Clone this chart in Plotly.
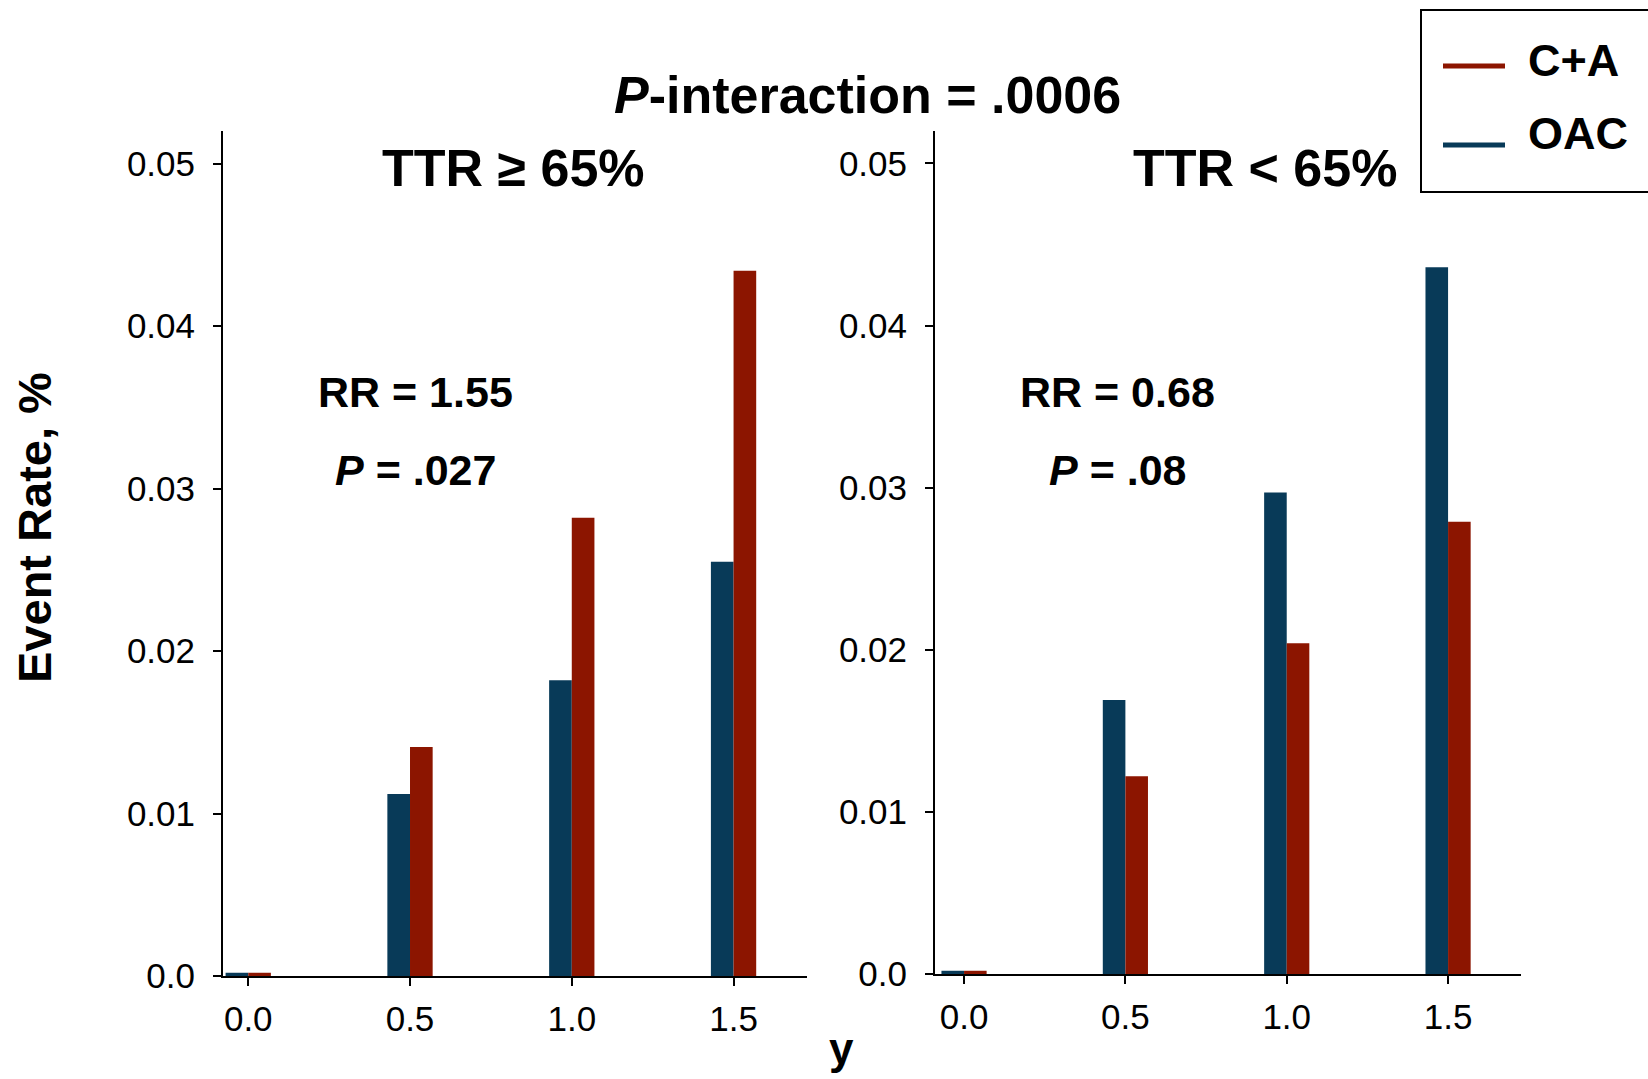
import plotly.graph_objects as go

# Event rates by follow-up time (years), split by TTR subgroup
years = [0.0, 0.5, 1.0, 1.5]
oac_ttr_high = [0.0002, 0.0112, 0.0182, 0.0255]
ca_ttr_high = [0.0002, 0.0141, 0.0282, 0.0434]
oac_ttr_low = [0.0002, 0.0169, 0.0297, 0.0436]
ca_ttr_low = [0.0002, 0.0122, 0.0204, 0.0279]

x_tick_vals = [0.0, 0.5, 1.0, 1.5]
x_tick_text = ["0.0", "0.5", "1.0", "1.5"]
y_tick_vals = [0.0, 0.01, 0.02, 0.03, 0.04, 0.05]
y_tick_text = ["0.0", "0.01", "0.02", "0.03", "0.04", "0.05"]

W, H = 1648, 1079
FONT = "Liberation Sans, Arial, sans-serif"
BLUE = "#083a58"
RED = "#8c1500"
BAR_W = 0.07


def px(x):
    return x / W


def py(y):
    return 1 - y / H


fig = go.Figure()
for xa, ya, oac, ca in [("x", "y", oac_ttr_high, ca_ttr_high),
                        ("x2", "y2", oac_ttr_low, ca_ttr_low)]:
    fig.add_trace(go.Bar(x=years, y=oac, width=BAR_W, offset=-BAR_W,
                         marker=dict(color=BLUE, line=dict(width=0)),
                         name="OAC", xaxis=xa, yaxis=ya, showlegend=False))
    fig.add_trace(go.Bar(x=years, y=ca, width=BAR_W, offset=0,
                         marker=dict(color=RED, line=dict(width=0)),
                         name="C+A", xaxis=xa, yaxis=ya, showlegend=False))

axis_common = dict(showline=True, linecolor="black", linewidth=2,
                   ticks="outside", ticklen=8, tickwidth=2, tickcolor="black",
                   showgrid=False, zeroline=False, automargin=False,
                   tickfont=dict(family=FONT, size=35, color="black"))

fig.update_layout(
    width=W, height=H,
    margin=dict(l=0, r=0, t=0, b=0, pad=0),
    paper_bgcolor="white", plot_bgcolor="white",
    barmode="overlay",
    showlegend=False,
    xaxis=dict(domain=[px(223), px(807)], range=[-0.078, 1.727],
               tickvals=x_tick_vals, ticktext=x_tick_text,
               ticklabelstandoff=3, anchor="y", **axis_common),
    yaxis=dict(domain=[py(976), py(131)], range=[0, 0.052],
               tickvals=y_tick_vals, ticktext=y_tick_text,
               ticklabelstandoff=11, anchor="x", **axis_common),
    xaxis2=dict(domain=[px(935), px(1521)], range=[-0.09, 1.726],
                tickvals=x_tick_vals, ticktext=x_tick_text,
                ticklabelstandoff=3, anchor="y2", **axis_common),
    yaxis2=dict(domain=[py(974), py(131)], range=[0, 0.052],
                tickvals=y_tick_vals, ticktext=y_tick_text,
                ticklabelstandoff=11, anchor="x2", **axis_common),
)


def note(text, x, y, size, angle=0):
    fig.add_annotation(text=text, x=px(x), y=py(y), xref="paper", yref="paper",
                       xanchor="center", yanchor="middle", showarrow=False,
                       textangle=angle,
                       font=dict(family=FONT, size=size, color="black"))


note("<b><i>P</i>-interaction = .0006</b>", 867, 95, 52)
note("<b>TTR ≥ 65%</b>", 513, 168, 52)
note("<b>TTR < 65%</b>", 1265, 168, 52)
note("<b>RR = 1.55</b>", 415, 392, 43)
note("<b><i>P</i> = .027</b>", 415, 470, 43)
note("<b>RR = 0.68</b>", 1117, 392, 43)
note("<b><i>P</i> = .08</b>", 1117, 470, 43)
note("<b>Event Rate, %</b>", 34, 528, 47, angle=-90)
note("<b>y</b>", 841, 1048, 44)

# Legend box with line keys
fig.add_shape(type="rect", xref="paper", yref="paper",
              x0=px(1421), x1=px(1700), y0=py(192), y1=py(10),
              line=dict(color="black", width=2), fillcolor="white")
for label, color, yline, ytext in [("C+A", RED, 66, 61), ("OAC", BLUE, 145, 133)]:
    fig.add_shape(type="line", xref="paper", yref="paper",
                  x0=px(1443), x1=px(1505), y0=py(yline), y1=py(yline),
                  line=dict(color=color, width=5))
    fig.add_annotation(text=f"<b>{label}</b>", x=px(1526), y=py(ytext),
                       xref="paper", yref="paper", xanchor="left",
                       yanchor="middle", showarrow=False,
                       font=dict(family=FONT, size=45, color="black"))

fig.write_html("out.html")
